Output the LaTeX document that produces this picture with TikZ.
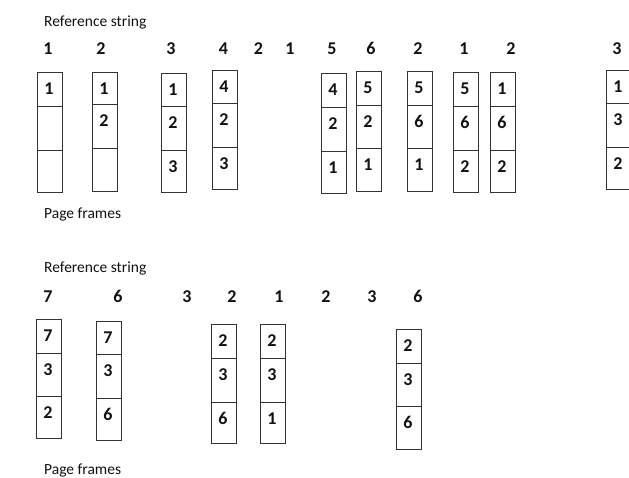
\documentclass[tikz,border=0pt]{standalone}
\usepackage{fontspec}
\setmainfont{Carlito}
\usetikzlibrary{calc}
\definecolor{ink}{HTML}{111111}
\definecolor{frameline}{HTML}{333333}
\tikzset{
  cell/.style={draw=frameline, line width=1.1pt, minimum width=25pt, inner sep=0pt, anchor=north west},
  num/.style={font=\bfseries\fontsize{18}{20}\selectfont, text=ink, anchor=base, inner sep=0pt},
  caption/.style={font=\fontsize{15.5}{18}\selectfont, text=ink, anchor=base west, inner sep=0pt},
}
\newcommand{\frm}[9]{%
  \pgfmathsetmacro\hA{#4-#3}\pgfmathsetmacro\hB{#5-#4}\pgfmathsetmacro\hC{#6-#5}%
  \node[cell, minimum height=\hA pt] (#1a) at (#2,#3) {};
  \node[cell, minimum height=\hB pt] (#1b) at (#2,#4) {};
  \node[cell, minimum height=\hC pt] (#1c) at (#2,#5) {};
  \node[num] (#1ta) at ($(#1a.north)+(-1,22)$) {#7};
  \node[num] (#1tb) at ($(#1b.north)+(-1,22)$) {#8};
  \node[num] (#1tc) at ($(#1c.north)+(-1,22)$) {#9};
}
\begin{document}
\begin{tikzpicture}[x=1pt, y=-1pt]
\clip (0,0) rectangle (629,477);
\fill[white] (0,0) rectangle (629,477);
% ---------- top part ----------
\node[caption] (rs1) at (44,26) {Reference string};
\node[num] (r1) at (48,54) {1};
\node[num] (r2) at (101,54) {2};
\node[num] (r3) at (171,54) {3};
\node[num] (r4) at (223.5,54) {4};
\node[num] (r5) at (258.5,54) {2};
\node[num] (r6) at (290,54) {1};
\node[num] (r7) at (332,54) {5};
\node[num] (r8) at (371,54) {6};
\node[num] (r9) at (418,54) {2};
\node[num] (r10) at (464,54) {1};
\node[num] (r11) at (511,54) {2};
\node[num] (r12) at (617,54) {3};
\frm{fa}{37}{72}{106}{150}{192}{1}{}{}
\frm{fb}{92}{72}{104}{148}{191}{1}{2}{}
\frm{fc}{161}{73}{106}{150}{192}{1}{2}{3}
\frm{fd}{212}{70}{103}{147}{189}{4}{2}{3}
\frm{fe}{321}{73}{107}{151}{193}{4}{2}{1}
\frm{ff}{356}{71}{105}{148}{191}{5}{2}{1}
\frm{fg}{407}{71}{105}{148}{191}{5}{6}{1}
\frm{fh}{453}{72}{106}{150}{192}{5}{6}{2}
\frm{fi}{490}{72}{106}{150}{192}{1}{6}{2}
\frm{fj}{606}{70}{103}{147}{189}{1}{3}{2}
\node[caption] (pf1) at (44,218) {Page frames};
% ---------- bottom part ----------
\node[caption] (rs2) at (44,272) {Reference string};
\node[num] (s1) at (48,302) {7};
\node[num] (s2) at (118,302) {6};
\node[num] (s3) at (187,302) {3};
\node[num] (s4) at (232,302) {2};
\node[num] (s5) at (279,302) {1};
\node[num] (s6) at (326,302) {2};
\node[num] (s7) at (372,302) {3};
\node[num] (s8) at (418,302) {6};
\frm{ga}{36}{319}{353}{396}{438}{7}{3}{2}
\frm{gb}{96}{321}{354}{398}{440}{7}{3}{6}
\frm{gc}{211}{324}{358}{402}{443}{2}{3}{6}
\frm{gd}{260}{324}{358}{402}{443}{2}{3}{1}
\frm{ge}{396}{329}{363}{406}{449}{2}{3}{6}
\node[caption] (pf2) at (44,474) {Page frames};
\end{tikzpicture}
\end{document}
